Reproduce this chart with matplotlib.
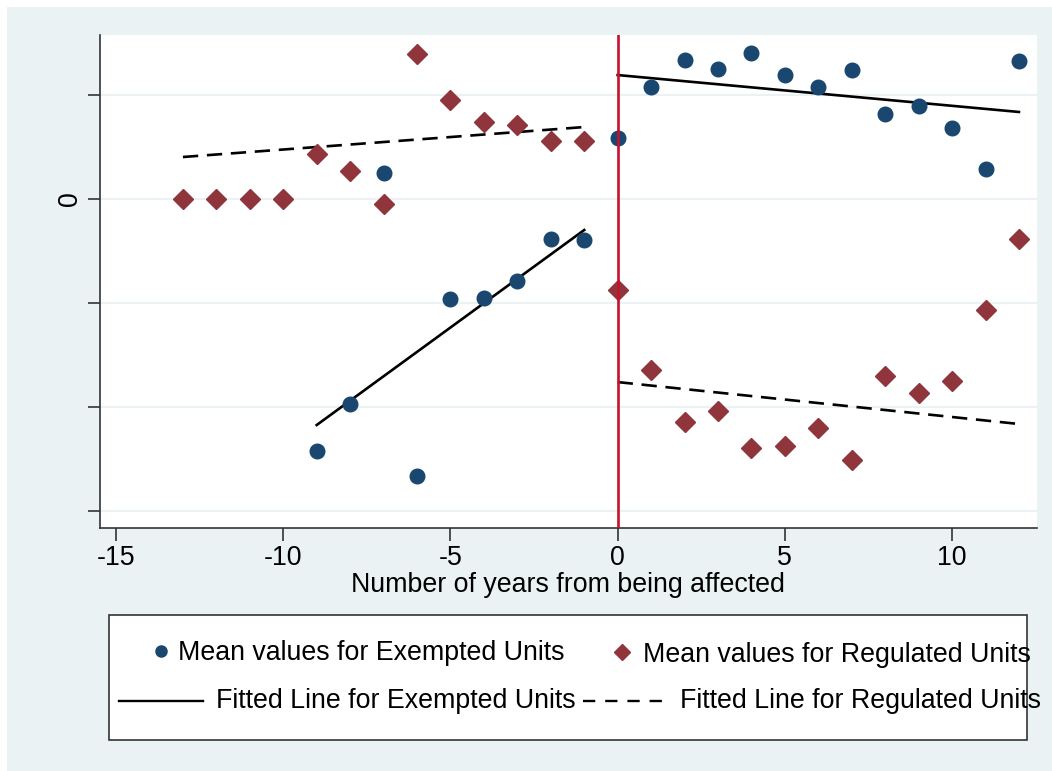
import numpy as np
import matplotlib.pyplot as plt
from matplotlib.patches import Rectangle
from matplotlib.lines import Line2D

plt.rcParams['font.family'] = ['Liberation Sans', 'DejaVu Sans']
plt.rcParams['axes.unicode_minus'] = False

# Mean values, exempted units
ex_years = [-9, -8, -7, -6, -5, -4, -3, -2, -1, 0, 1, 2, 3, 4, 5, 6, 7, 8, 9, 10, 11, 12]
ex_means = [-2.42, -1.97, 0.25, -2.66, -0.96, -0.95, -0.79, -0.385, -0.394, 0.587,
            1.077, 1.337, 1.25, 1.404, 1.19, 1.077, 1.24, 0.817, 0.894, 0.683, 0.288, 1.327]

# Mean values, regulated units
reg_years = [-13, -12, -11, -10, -9, -8, -7, -6, -5, -4, -3, -2, -1,
             0, 1, 2, 3, 4, 5, 6, 7, 8, 9, 10, 11, 12]
reg_means = [0, 0, 0, 0, 0.433, 0.269, -0.048, 1.394, 0.952, 0.74, 0.71, 0.558, 0.558,
             -0.875, -1.644, -2.144, -2.04, -2.394, -2.375, -2.2, -2.51, -1.70, -1.865,
             -1.75, -1.067, -0.385]

# fitted line end points (pre / post)
ex_fit_pre_x, ex_fit_pre_y = [-9, -1], [-2.173, -0.298]
ex_fit_post_x, ex_fit_post_y = [0, 12], [1.192, 0.837]
reg_fit_pre_x, reg_fit_pre_y = [-13, -1], [0.404, 0.692]
reg_fit_post_x, reg_fit_post_y = [0, 12], [-1.76, -2.163]

xticks = [-15, -10, -5, 0, 5, 10]
yticks = [-3, -2, -1, 0, 1]
ytick_labels = ['', '', '', '0', '']

blue = '#1a476f'
maroon = '#90353b'
bg = '#eaf2f3'
fs = 19.3
lw = 1.9

fig = plt.figure(figsize=(10.52, 7.71), dpi=100, facecolor='white')
fig.patches.append(Rectangle((7 / 1052, 0), 1, 1 - 7 / 771, transform=fig.transFigure,
                             facecolor=bg, edgecolor='none', zorder=-10))

ax = fig.add_axes([100 / 1052, 1 - 528 / 771, 937 / 1052, 493 / 771])
ax.set_facecolor('white')

ax.plot(ex_years, ex_means, 'o', color=blue, ms=10.5, zorder=3)
ax.plot(reg_years, reg_means, 'D', color=maroon, ms=10, zorder=3)
ax.plot(ex_fit_pre_x, ex_fit_pre_y, '-', color='black', lw=lw)
ax.plot(ex_fit_post_x, ex_fit_post_y, '-', color='black', lw=lw)
ax.plot(reg_fit_pre_x, reg_fit_pre_y, '--', color='black', lw=lw, dashes=(5.8, 3.3))
ax.plot(reg_fit_post_x, reg_fit_post_y, '--', color='black', lw=lw, dashes=(5.8, 3.3))
ax.axvline(0, color='#c8102e', lw=lw, zorder=4)

ax.set_xlim(-15.48, 12.54)
ax.set_ylim(-3.163, 1.577)
ax.set_xticks(xticks)
ax.set_yticks(yticks)
ax.set_yticklabels(ytick_labels)
for lab in ax.get_yticklabels():
    lab.set_rotation(90)
    lab.set_va('center')
ax.tick_params(axis='both', labelsize=fs, length=9, width=1.2, color='#333333')
ax.grid(axis='y', color=bg, lw=1.5)
ax.set_axisbelow(True)
for s in ['top', 'right']:
    ax.spines[s].set_visible(False)
for s in ['left', 'bottom']:
    ax.spines[s].set_color('#333333')
    ax.spines[s].set_linewidth(1.2)

fig.text(568 / 1052, 1 - 585 / 771, 'Number of years from being affected',
         ha='center', va='center', fontsize=fs)

# legend drawn by hand, Stata style
def fx(px):
    return px / 1052

def fy(py):
    return 1 - py / 771

fig.patches.append(Rectangle((fx(109), fy(740)), fx(1027) - fx(109), fy(615) - fy(740),
                             transform=fig.transFigure, facecolor='white',
                             edgecolor='#333333', lw=1.2))
fig.lines.append(Line2D([fx(161)], [fy(651)], marker='o', color=blue, ms=8,
                        transform=fig.transFigure))
fig.text(fx(178), fy(653), 'Mean values for Exempted Units', va='center', fontsize=fs)
fig.lines.append(Line2D([fx(622)], [fy(652)], marker='D', color=maroon, ms=8.5,
                        transform=fig.transFigure))
fig.text(fx(643), fy(655), 'Mean values for Regulated Units', va='center', fontsize=fs)
fig.lines.append(Line2D([fx(119), fx(203)], [fy(701), fy(701)], color='black', lw=1.7,
                        transform=fig.transFigure))
fig.text(fx(216), fy(701), 'Fitted Line for Exempted Units', va='center', fontsize=fs)
fig.lines.append(Line2D([fx(583), fx(668)], [fy(701), fy(701)], color='black', lw=1.7,
                        ls='--', dashes=(5.2, 4.2), transform=fig.transFigure))
fig.text(fx(680), fy(701), 'Fitted Line for Regulated Units', va='center', fontsize=fs)

fig.savefig('out.png', dpi=100, facecolor='white')
